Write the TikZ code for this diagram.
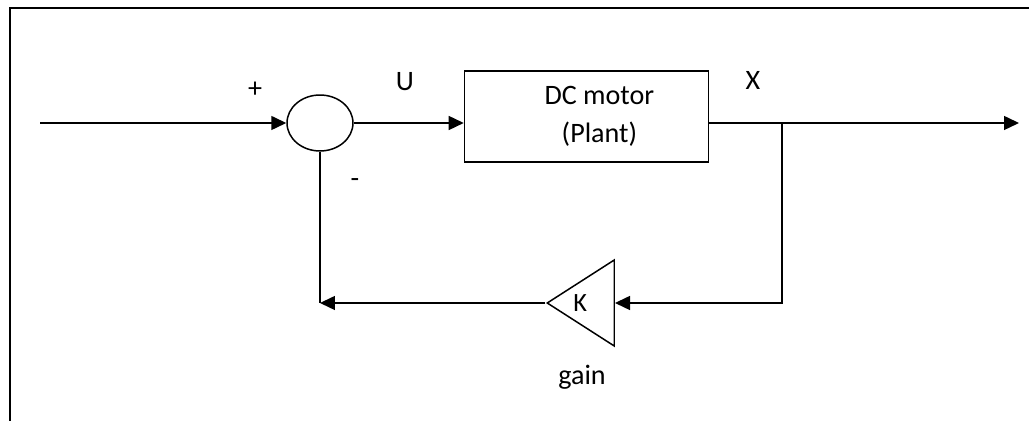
\documentclass[tikz,border=0pt]{standalone}
\usepackage{fontspec}
\setmainfont{Carlito}
\usepackage{tikz}
\usetikzlibrary{shapes.geometric, arrows.meta, positioning, calc}
\tikzstyle{block} = [rectangle, draw=black, minimum width=4.88cm, minimum height=1.82cm, align=center, inner sep=0pt]
\tikzstyle{sumjunction} = [ellipse, draw=black, minimum width=1.32cm, minimum height=1.12cm, inner sep=0pt]
\tikzstyle{gainbox} = [isosceles triangle, isosceles triangle stretches, shape border rotate=180, draw=black, minimum width=1.72cm, minimum height=1.34cm, inner sep=0pt]
\tikzstyle{arrow} = [-{Triangle[length=0.3cm,width=0.28cm]}]

\begin{document}
\begin{tikzpicture}[x=0.02cm, y=-0.02cm, line width=0.85pt, font=\fontsize{16}{20}\selectfont]
    \useasboundingbox (0,0) rectangle (1029,421);
    % frame
    \draw (10,421) -- (10,8) -- (1029,8);
    \coordinate (in) at (40,123);
    \node (sum) [sumjunction] at (320,123) {};
    \node (plant) [block, right=2.2cm of sum, yshift=0.13cm, font=\fontsize{16}{21.5}\selectfont]
        {\hspace*{0.52cm}DC motor\\\hspace*{0.52cm}(Plant)};
    \coordinate (out) at (1019,123);
    \coordinate (tap) at (782,123);
    \node (gain) [gainbox, anchor=east] at (615,303) {};
    \node (ktext) at ($(gain.apex)!0.5!(gain.east)$) {\fontsize{15}{18}\selectfont K};
    \coordinate (fb) at (sum.south |- gain.apex);
    % labels
    \node (plus) at (255,90) {+};
    \node (minus) at (355,183) {-};
    \node (ulabel) at (405,82) {U};
    \node (xlabel) at (753,80) {X};
    \node (gainlabel) at (582,377) {gain};
    % signals
    \draw[arrow] (in) -- (sum.west);
    \draw[arrow] (sum.east) -- (sum.east -| plant.west);
    \draw[arrow] (out -| plant.east) -- (out);
    \draw[arrow] (tap) |- (gain.east);
    \draw[arrow] (gain.apex) -- (fb);
    \draw (fb) -- (sum.south);
\end{tikzpicture}
\end{document}
